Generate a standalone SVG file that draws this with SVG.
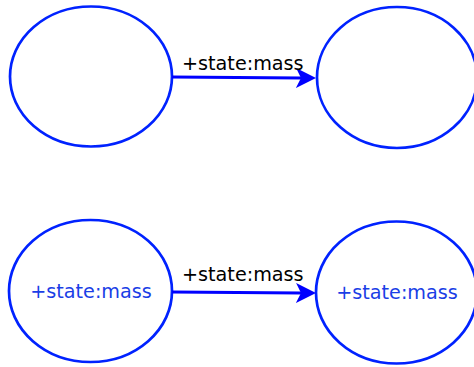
<svg xmlns="http://www.w3.org/2000/svg" width="474" height="367" viewBox="0 0 474 367">
<defs>
<style>
.node{fill:#fff;stroke:#0022ff;stroke-width:2.7}
.edge{stroke:#0000ff;stroke-width:3;fill:none}
.elabel{font-family:"DejaVu Sans",sans-serif;font-size:19.2px;fill:#000}
.nlabel{font-family:"DejaVu Sans",sans-serif;font-size:19.2px;fill:#1a3ee6;text-anchor:middle}
</style>
<marker id="arr" viewBox="0 0 20 20" refX="5" refY="10" markerWidth="20" markerHeight="20" markerUnits="userSpaceOnUse" orient="auto">
<path d="M0,0 L20,10 L0,20 L5,10 Z" fill="#0000ff"/>
</marker>
</defs>
<rect width="474" height="367" fill="#fff"/>
<g id="n1"><ellipse class="node" cx="91" cy="76.5" rx="81" ry="70"/></g>
<g id="n2"><ellipse class="node" cx="397" cy="77.5" rx="80" ry="70.5"/></g>
<g id="n3"><ellipse class="node" cx="90.5" cy="291" rx="81.5" ry="71"/><text class="nlabel" x="91" y="298">+state:mass</text></g>
<g id="n4"><ellipse class="node" cx="396.5" cy="292.5" rx="80.5" ry="71"/><text class="nlabel" x="397" y="299">+state:mass</text></g>
<g id="edges">
<line class="edge" x1="172" y1="77" x2="301" y2="78" marker-end="url(#arr)"/>
<text class="elabel" x="182" y="70">+state:mass</text>
<line class="edge" x1="172" y1="292" x2="301" y2="293" marker-end="url(#arr)"/>
<text class="elabel" x="182" y="281">+state:mass</text>
</g>
</svg>
